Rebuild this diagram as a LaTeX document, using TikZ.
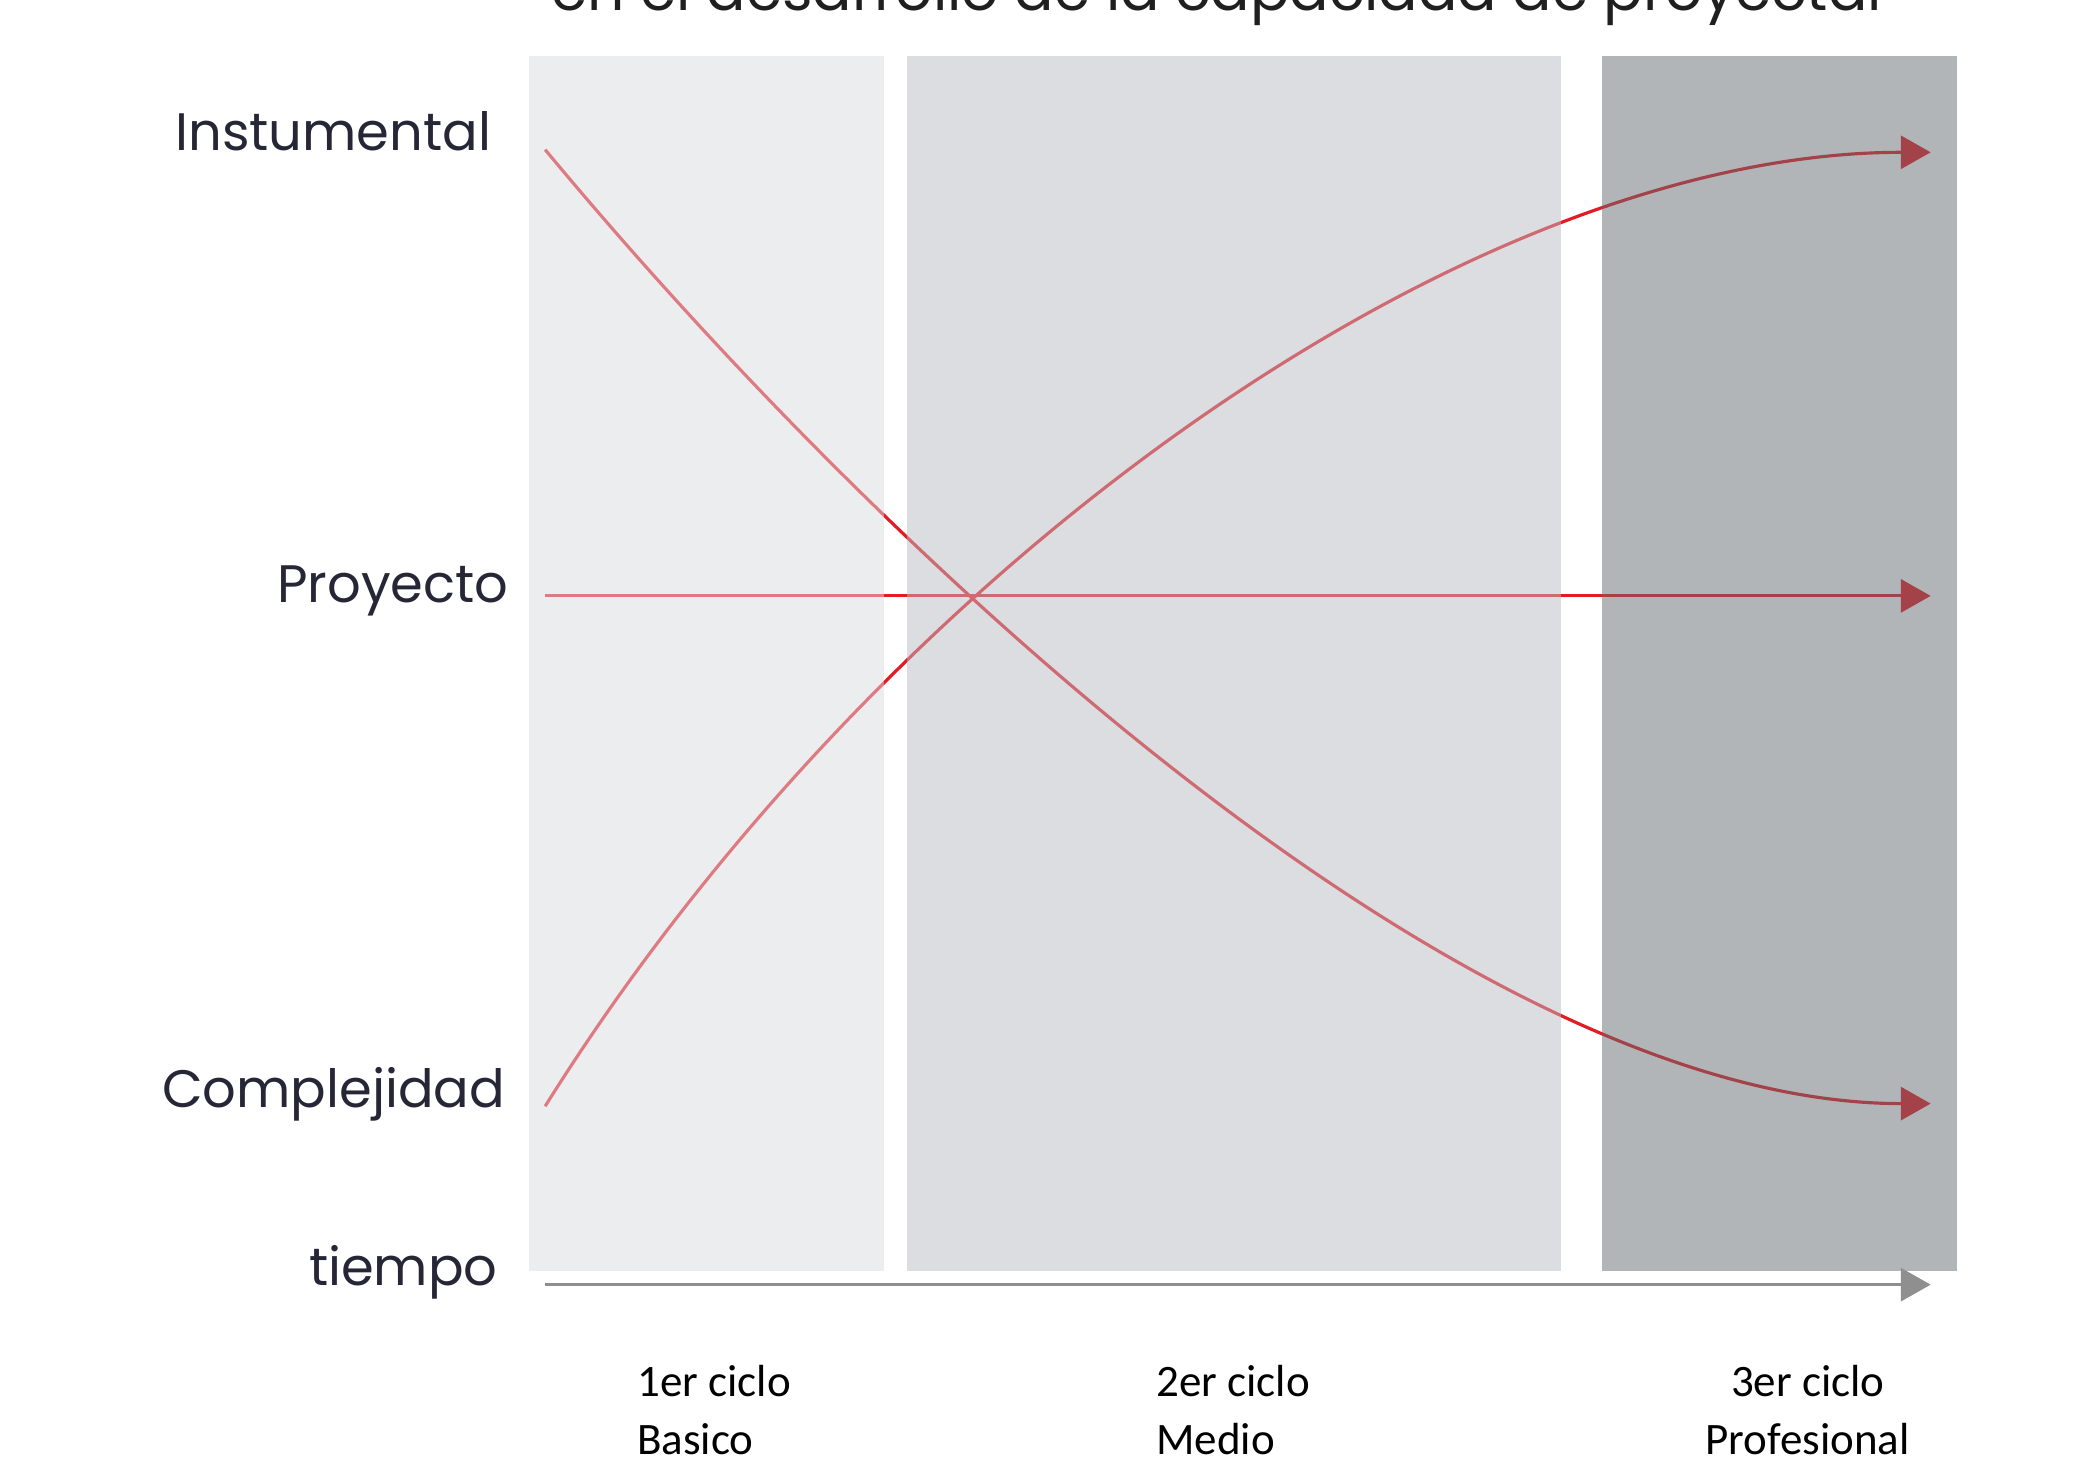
\documentclass[tikz,border=0pt]{standalone}
\usepackage{fontspec}
\setmainfont{Poppins}
\newfontfamily\ciclofont{Carlito}
\usetikzlibrary{arrows.meta}
\definecolor{rojo}{RGB}{228,26,36}
\definecolor{gris}{RGB}{143,143,143}
\definecolor{texto}{RGB}{38,38,55}
\definecolor{panelA}{RGB}{217,219,223}
\definecolor{panelB}{RGB}{185,187,193}
\definecolor{panelC}{RGB}{101,107,113}
\begin{document}
\begin{tikzpicture}[x=0.13361mm, y=-0.13361mm,
		eje/.style={line width=0.9pt, -{Triangle[length=8.5pt,width=9.4pt]}},
		curva/.style={eje, draw=rojo},
		panel/.style={fill opacity=0.5},
		etiqueta/.style={anchor=base east, inner sep=0pt, text=texto, font=\fontsize{15}{18}\selectfont},
		ciclo/.style={anchor=north west, inner sep=0pt, align=left, font=\ciclofont\fontsize{12.8}{16.7}\selectfont}]
		\useasboundingbox (0,0) rectangle (1568,1095);
		% titulo (cortado arriba)
		\node[anchor=base, inner sep=0pt, text=black!88, font=\fontsize{16.6}{20}\selectfont] (titulo) at (913.5,7.5) {en el desarrollo de la capacidad de proyectar};
		% extremos de las curvas
		\coordinate (ins0) at (408,112);
		\coordinate (ins1) at (1445,826);
		\coordinate (pro0) at (408,446);
		\coordinate (pro1) at (1445,446);
		\coordinate (com0) at (408,828);
		\coordinate (com1) at (1445,114);
		\coordinate (tie0) at (408,961.5);
		\coordinate (tie1) at (1445,961.5);
		\draw[curva] (ins0) .. controls +(250,301) and +(-350,0) .. (ins1);
		\draw[curva] (com0) .. controls +(250,-400) and +(-350,0) .. (com1);
		\draw[curva] (pro0) -- (pro1);
		% ciclos
		\fill[panel, panelA] (396,42) rectangle (661.5,951.5);
		\fill[panel, panelB] (678.5,42) rectangle (1168,951.5);
		\fill[panel, panelC] (1199,42) rectangle (1464.5,951.5);
		\draw[eje, draw=gris] (tie0) -- (tie1);
		\draw
		node[etiqueta] at (368,112.3) (instumental) {Instumental}
		node[etiqueta] at (381,451) (proyecto) {Proyecto}
		node[etiqueta] at (378.5,828.6) (complejidad) {Complejidad}
		node[etiqueta] at (373,962.5) (tiempo) {tiempo}
		node[ciclo] at (476.5,1021) (basico) {1er ciclo\\Basico}
		node[ciclo] at (865,1021) (medio) {2er ciclo\\Medio}
		node[ciclo, anchor=north, align=center] at (1353,1021) (profesional) {3er ciclo\\Profesional};
	\end{tikzpicture}
\end{document}
